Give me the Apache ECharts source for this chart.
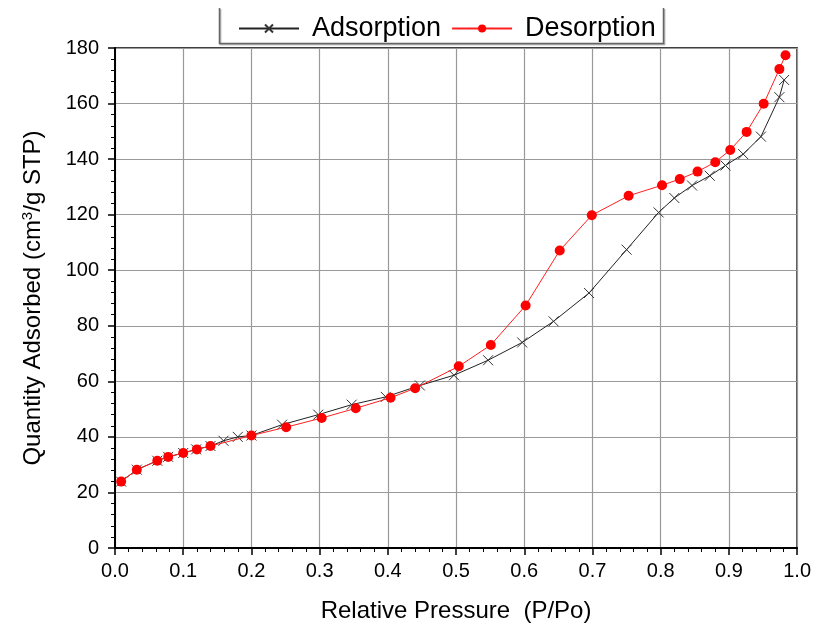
<!DOCTYPE html>
<html>
<head>
<meta charset="utf-8">
<script src="https://cdn.jsdelivr.net/npm/echarts@6/dist/echarts.min.js"></script>
<style>
html,body{margin:0;padding:0;background:#fff;}
#chart{width:814px;height:628px;}
</style>
</head>
<body>
<div id="chart"></div>
<script>
// Adsorption branch (P/Po, quantity)
const adsP = [0.009,0.032,0.062,0.078,0.100,0.119,0.140,0.159,0.180,0.200,0.245,0.298,0.347,0.397,0.447,0.497,0.547,0.597,0.643,0.695,0.750,0.797,0.820,0.846,0.872,0.895,0.921,0.947,0.974,0.981];
const adsQ = [23.9,28.2,31.4,32.8,34.2,35.5,36.7,38.6,40.0,40.5,44.4,48.0,51.6,54.4,58.5,62.2,67.6,74.0,81.6,91.8,107.4,120.8,126.0,130.5,134.0,137.7,141.8,148.1,162.3,168.5];
// Desorption branch
const desP = [0.983,0.974,0.951,0.926,0.902,0.880,0.854,0.828,0.802,0.753,0.699,0.652,0.602,0.551,0.504,0.440,0.404,0.353,0.303,0.251,0.200,0.140,0.120,0.100,0.078,0.062,0.032,0.009];
const desQ = [177.4,172.4,159.9,149.8,143.3,138.9,135.5,132.8,130.6,126.8,119.8,107.1,87.3,73.1,65.4,57.5,54.1,50.3,46.8,43.5,40.5,36.7,35.5,34.2,32.8,31.4,28.2,23.9];
const seriesNames = ['Adsorption','Desorption'];
const xName = 'Relative Pressure  (P/Po)';
const yName = 'Quantity Adsorbed (cm{sup|3}/g STP)';

const font = 'Arial, "Liberation Sans", sans-serif';
const chart = echarts.init(document.getElementById('chart'), null, {renderer:'canvas'});
const crossPath = 'path://M0,0L10,10M10,0L0,10';
chart.setOption({
  animation:false,
  backgroundColor:'#fff',
  graphic:[{
    type:'polyline',z:100,
    shape:{points:[[219.5,8],[219.5,43.5],[663.5,43.5],[663.5,8]]},
    style:{fill:null,stroke:'#666',lineWidth:1.5,shadowColor:'rgba(0,0,0,0.35)',shadowOffsetX:1,shadowOffsetY:1,shadowBlur:1}
  }],
  grid:{left:115,right:16,top:48,bottom:80,show:true,borderColor:'#000',borderWidth:1.5,backgroundColor:'transparent'},
  legend:{
    top:15,left:220,
    orient:'horizontal',
    padding:[0,4,0,18],
    itemGap:10,itemWidth:60,itemHeight:10,
    textStyle:{fontFamily:font,fontSize:27,color:'#000',padding:[0,0,0,8]},
    data:seriesNames
  },
  xAxis:{
    type:'value',min:0,max:1,interval:0.1,
    name:xName,nameLocation:'middle',nameGap:51,
    nameTextStyle:{fontFamily:font,fontSize:24,color:'#000'},
    axisLine:{show:true,onZero:false,lineStyle:{color:'#000',width:2}},
    axisTick:{show:true,inside:false,length:7,lineStyle:{color:'#000',width:1.5}},
    minorTick:{show:true,splitNumber:5,length:4,lineStyle:{color:'#000',width:1}},
    axisLabel:{fontFamily:font,fontSize:20,color:'#000',margin:13,formatter:v=>v.toFixed(1)},
    splitLine:{show:true,lineStyle:{color:'#999',width:1.2}}
  },
  yAxis:{
    type:'value',min:0,max:180,interval:20,
    name:yName,nameLocation:'middle',nameGap:68,
    nameTextStyle:{fontFamily:font,fontSize:24,color:'#000',rich:{sup:{fontFamily:font,fontSize:15,verticalAlign:'top',color:'#000',padding:[0,0,12,0]}}},
    axisLine:{show:true,onZero:false,lineStyle:{color:'#000',width:2}},
    axisTick:{show:true,inside:false,length:7,lineStyle:{color:'#000',width:1.5}},
    minorTick:{show:true,splitNumber:5,length:4,lineStyle:{color:'#000',width:1}},
    axisLabel:{fontFamily:font,fontSize:20,color:'#000',margin:16},
    splitLine:{show:true,lineStyle:{color:'#999',width:1.2}}
  },
  series:[
    {
      name:seriesNames[0],type:'line',
      data:adsP.map((p,i)=>[p,adsQ[i]]),
      symbol:crossPath,symbolSize:10,showAllSymbol:true,
      lineStyle:{color:'#222',width:1},
      itemStyle:{color:'none',borderColor:'#333',borderWidth:1},
      z:2
    },
    {
      name:seriesNames[1],type:'line',
      data:desP.map((p,i)=>[p,desQ[i]]),
      symbol:'circle',symbolSize:10,showAllSymbol:true,
      lineStyle:{color:'#ff2020',width:1},
      itemStyle:{color:'#ff0000',borderWidth:0},
      z:3
    }
  ]
});
</script>
</body>
</html>
